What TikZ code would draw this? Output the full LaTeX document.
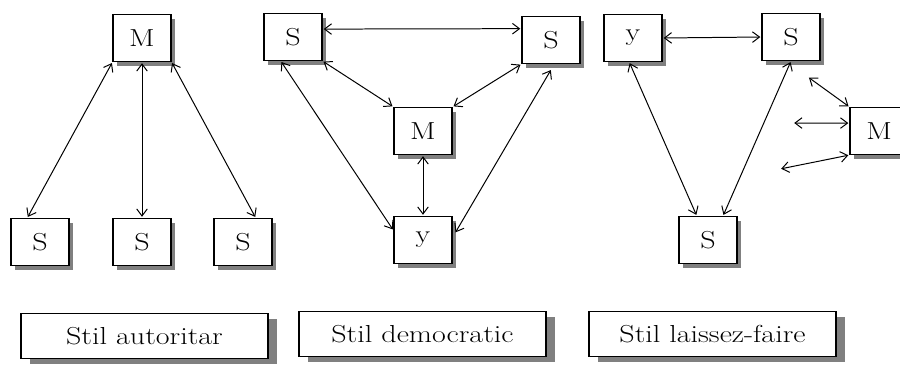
\documentclass[tikz,border=0pt]{standalone}
\usepackage{fontspec}
\setmainfont{Latin Modern Roman}[FakeStretch=1.22]
\usetikzlibrary{arrows.meta,shadows}

\begin{document}
\begin{tikzpicture}[x=0.03cm, y=-0.03cm, font=\fontsize{21}{25}\selectfont,
  >={Straight Barb[length=6pt,width=9pt]},
  frame/.style={draw, line width=0.9pt, fill=white, inner sep=0pt},
  box/.style={frame, minimum width=1.74cm, minimum height=1.41cm,
    drop shadow={shadow xshift=3.5pt, shadow yshift=-3.5pt, fill=black!50, opacity=1}},
  stil/.style={frame, minimum width=7.41cm, minimum height=1.35cm,
    drop shadow={shadow xshift=8pt, shadow yshift=-5pt, fill=black!50, opacity=1}},
  link/.style={<->, line width=0.85pt, shorten <=1pt, shorten >=1pt}]
% pagina: 900 x 365 (unitati = pixeli)
\useasboundingbox (0,0) rectangle (900,365);

% stil autoritar
\node[box] (aM)  at (142,38)  {M};
\node[box] (aS1) at (40,242)  {S};
\node[box] (aS2) at (142,242) {S};
\node[box] (aS3) at (243,242) {S};
\draw[link] (aM.south west) -- (aS1.118);
\draw[link] (aM.south) -- (aS2.north);
\draw[link] (aM.south east) -- (aS3.62);

% stil democratic
\node[box] (dS1) at (293,37)  {S};
\node[box] (dS2) at (551,40)  {S};
\node[box] (dM)  at (423,131) {M};
\node[box] (dY)  at (423,240) {y};
\draw[link] (dS1.15) -- (dS2.159);
\draw[link] (dS1.south east) -- (dM.north west);
\draw[link] (dS2.south west) -- (dM.north east);
\draw[link] (dS1.243) -- (dY.162);
\draw[link, shorten <=6pt, shorten >=5pt] (dS2.278) -- (dY.5);
\draw[link] (dM.south) -- (dY.north);

% stil laissez-faire
\node[box] (lY)  at (633,38)  {y};
\node[box] (lS1) at (791,37)  {S};
\node[box] (lS2) at (708,240) {S};
\node[box] (lM)  at (879,131) {M};
\draw[link] (lY.east) -- (lS1.west);
\draw[link] (lY.261) -- (lS2.115);
\draw[link] (lS1.south) -- (lS2.58);
% sageti libere spre M
\coordinate (f1) at (808,77);
\coordinate (f2) at (793,123);
\coordinate (f3) at (780,169);
\draw[link] (f1) -- (lM.north west);
\draw[link] (f2) -- (lM.165);
\draw[link] (f3) -- (lM.south west);

% etichete
\node[stil] (t1) at (144.5,336) {Stil autoritar};
\node[stil] (t2) at (422.5,334) {Stil democratic};
\node[stil] (t3) at (712.5,334) {Stil laissez-faire};
\end{tikzpicture}
\end{document}
